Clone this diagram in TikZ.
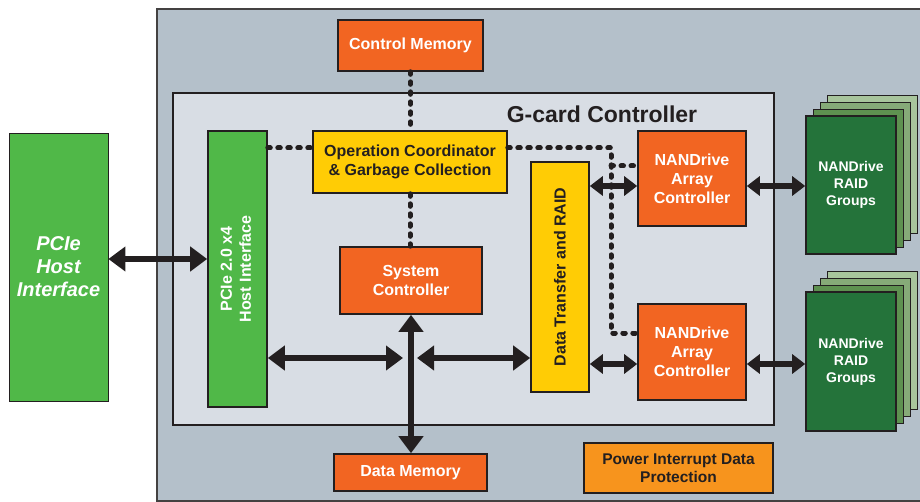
\documentclass[tikz,border=0pt]{standalone}
\usepackage{xcolor}
\usepackage{fontspec}
\setmainfont{Liberation Sans}
\usepackage{tikz}
\usetikzlibrary{arrows.meta}

\definecolor{outergray}{HTML}{B4C0CA}
\definecolor{innergray}{HTML}{D8DDE4}
\definecolor{boxorange}{HTML}{F26522}
\definecolor{lightorange}{HTML}{F7941D}
\definecolor{boxyellow}{HTML}{FFCC05}
\definecolor{boxgreen}{HTML}{50B848}
\definecolor{raidgreen}{HTML}{24733A}
\definecolor{raidmid}{HTML}{5E9150}
\definecolor{raidlight}{HTML}{86AA78}
\definecolor{raidpale}{HTML}{A8C59C}
\definecolor{ink}{HTML}{231F20}

\begin{document}
\begin{tikzpicture}[x=1pt,y=-1pt,
    block/.style={draw=ink,line width=1.6pt,inner sep=0pt,align=center,
      font=\bfseries\fontsize{16}{19}\selectfont},
    orangebox/.style={block,fill=boxorange,text=white},
    yellowbox/.style={block,fill=boxyellow,text=ink},
    greenbox/.style={block,fill=boxgreen,text=white},
    raidbox/.style={block,fill=raidgreen,text=white,
      font=\bfseries\fontsize{14}{17}\selectfont},
    layer/.style={draw=ink,line width=1pt},
    bigarrow/.style={ink,line width=6pt,
      {Triangle[length=17pt,width=24pt]}-{Triangle[length=17pt,width=24pt]}},
    smallarrow/.style={ink,line width=5.5pt,
      {Triangle[length=13pt,width=19pt]}-{Triangle[length=13pt,width=19pt]}},
    dotline/.style={ink,line width=5pt,line cap=round,dash pattern=on 2.5pt off 7.5pt}]
    \useasboundingbox (0,0) rectangle (920,502);

    \draw[fill=outergray,draw=ink!85,line width=2pt] (157,9) rectangle (940,501);
    \draw[fill=innergray,draw=ink,line width=2.5pt] (173,93) rectangle (774,425);
    \node[text=ink,font=\bfseries\fontsize{23}{27}\selectfont] (gcard) at (602,114) {G-card Controller};

    \node[greenbox,line width=0.8pt,minimum width=99pt,minimum height=268pt,
      font=\bfseries\itshape\fontsize{20}{23}\selectfont] (pcie) at (58.5,267) {PCIe\\Host\\Interface};
    \node[greenbox,minimum width=59pt,minimum height=276pt] (host) at (237.5,269)
      {\rotatebox{90}{\begin{tabular}{@{}c@{}}PCIe 2.0 x4\\Host Interface\end{tabular}}};
    \node[orangebox,minimum width=145pt,minimum height=51pt] (ctlmem) at (410.5,45.5) {Control Memory};
    \node[yellowbox,minimum width=194pt,minimum height=62pt] (opcoord) at (410,162)
      {Operation Coordinator\\\& Garbage Collection};
    \node[orangebox,minimum width=142pt,minimum height=67pt] (sysctl) at (411,280.5) {System\\Controller};
    \node[yellowbox,minimum width=58pt,minimum height=230pt] (dtr) at (560,277)
      {\rotatebox{90}{Data Transfer and RAID}};
    \node[orangebox,minimum width=108pt,minimum height=95pt] (nand1) at (692,178.5) {NANDrive\\Array\\Controller};
    \node[orangebox,minimum width=108pt,minimum height=96pt] (nand2) at (692,352) {NANDrive\\Array\\Controller};
    \node[orangebox,minimum width=153pt,minimum height=37pt] (datamem) at (410.5,472.5) {Data Memory};
    \node[block,fill=lightorange,text=ink,minimum width=189pt,minimum height=50pt,
      font=\bfseries\fontsize{15.5}{18.5}\selectfont] (power) at (678.5,468) {Power Interrupt Data\\Protection};

    \foreach \gy in {116,292}
      \foreach \k/\c in {3/raidpale,2/raidlight,1/raidmid}
        \draw[layer,fill=\c] (806+7*\k,\gy-6.7*\k) rectangle ++(90,138);
    \node[raidbox,minimum width=90pt,minimum height=138pt] (raid1) at (851,185) {NANDrive\\RAID\\Groups};
    \node[raidbox,minimum width=90pt,minimum height=139pt] (raid2) at (851,361.5) {NANDrive\\RAID\\Groups};

    \coordinate (hostin) at (160,259);
    \coordinate (busl) at (403,358);
    \coordinate (busr) at (417,358);
    \coordinate (up) at (600,186);
    \coordinate (down) at (600,364);
    \draw[bigarrow] (pcie.east |- hostin) -- (host.west |- hostin);
    \draw[bigarrow] (sysctl.south) -- (sysctl.south |- datamem.north);
    \draw[bigarrow] (host.east |- busl) -- (busl);
    \draw[bigarrow] (busr) -- (dtr.west |- busr);
    \draw[smallarrow] (dtr.east |- up) -- (nand1.west |- up);
    \draw[smallarrow] (dtr.east |- down) -- (nand2.west |- down);
    \draw[smallarrow] (nand1.east |- up) -- (raid1.west |- up);
    \draw[smallarrow] (nand2.east |- down) -- (raid2.west |- down);

    \coordinate (dl) at (300,148);
    \coordinate (dc) at (611,148);
    \coordinate (db) at (611,333);
    \coordinate (dm) at (611,166);
    \draw[dotline] (ctlmem.south) -- (ctlmem.south |- opcoord.north);
    \draw[dotline] (opcoord.south) -- (opcoord.south |- sysctl.north);
    \draw[dotline] (host.east |- dl) -- (opcoord.west |- dl);
    \draw[dotline] (opcoord.east |- dc) -- (dc) -- (db) -- (nand2.west |- db);
    \draw[dotline] (dm) -- (nand1.west |- dm);
\end{tikzpicture}
\end{document}
